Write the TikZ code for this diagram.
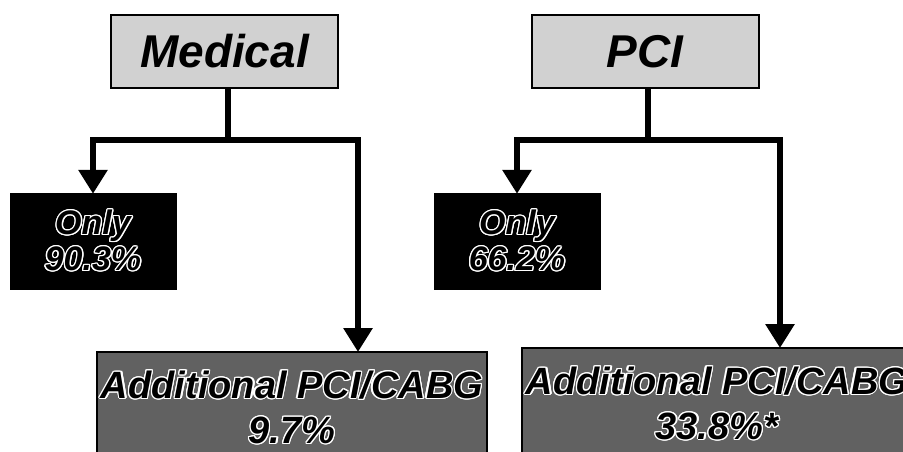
\documentclass[tikz,border=0pt]{standalone}
\usepackage{fontspec}
\setmainfont{Liberation Sans}
\usepackage[copies]{contour}
\contourlength{1.3pt}
\usetikzlibrary{arrows.meta}
\tikzset{
  x=1pt, y=1pt,
  topbox/.style={draw=black, line width=2pt, fill=black!18, minimum width=227pt, minimum height=73pt,
    inner sep=0pt, font=\fontsize{46}{50}\selectfont\bfseries\itshape},
  onlybox/.style={draw=black, fill=black, minimum width=166pt, minimum height=96pt, inner sep=0pt,
    align=center, font=\fontsize{34}{36}\selectfont\bfseries\itshape},
  addbox/.style={draw=black, line width=2pt, fill=black!62, minimum width=390pt, minimum height=112pt,
    inner sep=0pt, align=center, font=\fontsize{38}{45}\selectfont\bfseries\itshape},
  conn/.style={line width=6pt, draw=black},
  arr/.style={conn, -{Triangle[width=28pt,length=24pt]}, shorten >=-1pt},
}
\begin{document}
\begin{tikzpicture}
\useasboundingbox (0,0) rectangle (903,-452);
\clip (0,0) rectangle (903,-452);
% left tree
\node[topbox] (med) at (224.5,-51.5) {Medical};
\node[onlybox] (only1) at (93,-241) {\contour{white}{Only}\\\contour{white}{90.3\%}};
\node[addbox] (add1) at (292,-408) {\contour{white}{Additional PCI/CABG}\\\contour{white}{9.7\%}};
\coordinate (j1) at (228,-140);
\coordinate (r1) at (358,0);
\draw[conn] (med.south -| j1) -- (j1);
\draw[arr] ([xshift=3pt]j1) -| (only1.north);
\draw[arr] ([xshift=-3pt]j1) -| (add1.north -| r1);
% right tree
\node[topbox] (pci) at (645,-51.5) {PCI};
\node[onlybox] (only2) at (517,-241) {\contour{white}{Only}\\\contour{white}{66.2\%}};
\node[addbox] (add2) at (717,-404) {\contour{white}{Additional PCI/CABG}\\\contour{white}{33.8\%*}};
\coordinate (j2) at (648,-140);
\coordinate (r2) at (780,0);
\draw[conn] (pci.south -| j2) -- (j2);
\draw[arr] ([xshift=3pt]j2) -| (only2.north);
\draw[arr] ([xshift=-3pt]j2) -| (add2.north -| r2);
\end{tikzpicture}
\end{document}
